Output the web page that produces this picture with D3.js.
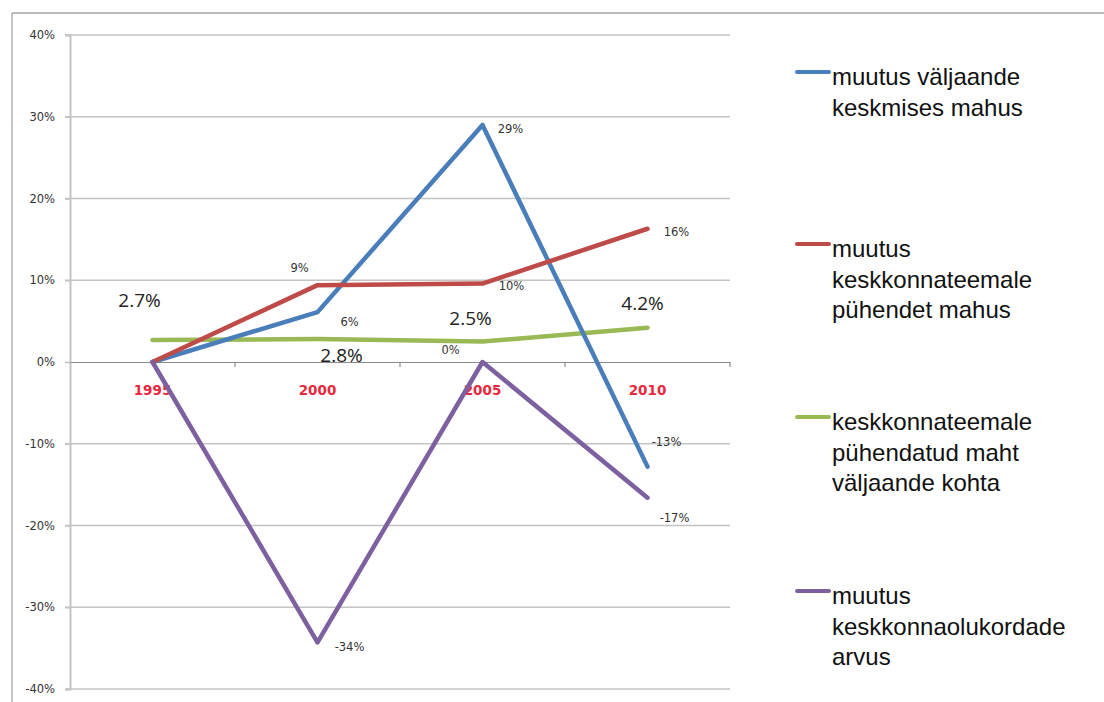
<!DOCTYPE html>
<html>
<head>
<meta charset="utf-8">
<script src="https://cdn.jsdelivr.net/npm/d3@7"></script>
<style>
  body { margin: 0; background: #fff; }
  svg { display: block; }
</style>
</head>
<body>
<svg id="chart" width="1104" height="702"></svg>
<script>
const years = ["1995", "2000", "2005", "2010"];
const yTicks = [-0.4, -0.3, -0.2, -0.1, 0, 0.1, 0.2, 0.3, 0.4];

// series values
const blueValues = [0, 0.061, 0.29, -0.128];
const redValues = [0, 0.094, 0.096, 0.163];
const greenValues = [0.027, 0.028, 0.025, 0.042];
const purpleValues = [0, -0.343, 0, -0.166];

const seriesNames = [
  ["muutus väljaande", "keskmises mahus"],
  ["muutus", "keskkonnateemale", "pühendet mahus"],
  ["keskkonnateemale", "pühendatud maht", "väljaande kohta"],
  ["muutus", "keskkonnaolukordade", "arvus"]
];
const seriesColors = ["#4a7ebb", "#be4b48", "#98b954", "#7d60a0"];

// which points carry a label, and where the label sits relative to its point
const labelPlacement = [
  [null, [32, 10], [28, 4], [19, -25]],
  [null, [-18, -17], [29, 2], [29, 3]],
  [[-13, -40], [24, 16], [-12, -23], [-5, -24]],
  [null, [32, 5], [-32, -12], [27, 20]]
];

const svg = d3.select("#chart");
const plotLeft = 70, plotRight = 730;

const x = d3.scaleBand().domain(years).range([plotLeft, plotRight]);
const y = d3.scaleLinear().domain([-0.4, 0.4]).range([689, 35]);
const minus = s => s.replace("\u2212", "-");

// outer frame (chart area border)
svg.append("line")
  .attr("x1", 12).attr("x2", 1104).attr("y1", 13).attr("y2", 13)
  .attr("stroke", "#bdbdbd").attr("stroke-width", 2);
svg.append("line")
  .attr("x1", 12).attr("x2", 12).attr("y1", 13).attr("y2", 702)
  .attr("stroke", "#8a8a8a").attr("stroke-width", 1);

// gridlines
svg.append("g")
  .selectAll("line")
  .data(yTicks.filter(d => d !== 0))
  .join("line")
    .attr("x1", plotLeft - 5)
    .attr("x2", plotRight)
    .attr("y1", d => y(d))
    .attr("y2", d => y(d))
    .attr("stroke", "#c4c4c4")
    .attr("stroke-width", 1.6);

// y axis
const yAxis = d3.axisLeft(y)
  .tickValues(yTicks)
  .tickFormat(d => minus(d3.format(".0%")(d)))
  .tickSize(5)
  .tickPadding(10);

const yAxisG = svg.append("g")
  .attr("transform", `translate(${plotLeft},0)`)
  .call(yAxis);
yAxisG.select(".domain").attr("stroke", "#c4c4c4").attr("stroke-width", 2);
yAxisG.selectAll(".tick line").attr("stroke", "#c4c4c4").attr("stroke-width", 1.6);
yAxisG.selectAll(".tick text")
  .attr("fill", "#333")
  .style("font-family", "'DejaVu Sans', sans-serif")
  .style("font-size", "11.5px");

// x axis at zero
const xAxis = d3.axisBottom(x).tickSize(0).tickFormat("");
const xAxisG = svg.append("g")
  .attr("transform", `translate(0,${y(0)})`)
  .call(xAxis);
xAxisG.select(".domain").attr("stroke", "#8c8c8c").attr("stroke-width", 1.2);

// category boundary ticks
svg.append("g")
  .selectAll("line")
  .data(years)
  .join("line")
    .attr("x1", d => x(d) + x.step())
    .attr("x2", d => x(d) + x.step())
    .attr("y1", y(0))
    .attr("y2", y(0) + 5)
    .attr("stroke", "#8c8c8c")
    .attr("stroke-width", 1.2);

svg.append("g")
  .selectAll("text")
  .data(years)
  .join("text")
    .attr("x", d => x(d) + x.bandwidth() / 2)
    .attr("y", y(0) + 33)
    .attr("text-anchor", "middle")
    .attr("fill", "#e8283c")
    .style("font-family", "'DejaVu Sans', sans-serif")
    .style("font-weight", "bold")
    .style("font-size", "13.5px")
    .text(d => d);

const allSeries = [blueValues, redValues, greenValues, purpleValues];
const cx = i => x(years[i]) + x.bandwidth() / 2;

const line = d3.line()
  .x((d, i) => cx(i))
  .y(d => y(d));

// green first so the others sit on top
const drawOrder = [2, 0, 1, 3];
drawOrder.forEach(s => {
  svg.append("path")
    .datum(allSeries[s])
    .attr("fill", "none")
    .attr("stroke", seriesColors[s])
    .attr("stroke-width", 4.5)
    .attr("stroke-linejoin", "round")
    .attr("stroke-linecap", "round")
    .attr("d", line);
});

// data labels
allSeries.forEach((vals, s) => {
  const fmt = s === 2 ? d3.format(".1%") : d3.format(".0%");
  const pts = vals.map((v, i) => ({ v, i, off: labelPlacement[s][i] })).filter(p => p.off);
  svg.append("g")
    .selectAll("text")
    .data(pts)
    .join("text")
      .attr("x", p => cx(p.i) + p.off[0])
      .attr("y", p => y(p.v) + p.off[1])
      .attr("text-anchor", "middle")
      .attr("dy", "0.35em")
      .attr("fill", s === 2 ? "#222" : "#333")
      .style("font-family", s === 2 ? "'Open Sans', sans-serif" : "'DejaVu Sans', sans-serif")
      .style("font-size", s === 2 ? "19px" : "11.5px")
      .text(p => minus(fmt(p.v)));
});

// legend
const legendY = [72, 244, 417, 591];
const legend = svg.append("g");
seriesNames.forEach((lines, s) => {
  legend.append("line")
    .attr("x1", 797).attr("x2", 829)
    .attr("y1", legendY[s]).attr("y2", legendY[s])
    .attr("stroke", seriesColors[s])
    .attr("stroke-width", 4)
    .attr("stroke-linecap", "round");
  legend.append("text")
    .attr("x", 832)
    .attr("y", legendY[s] + 13)
    .attr("fill", "#111")
    .style("font-family", "'Liberation Sans', Arial, sans-serif")
    .style("font-size", "24px")
    .selectAll("tspan")
    .data(lines)
    .join("tspan")
      .attr("x", 832)
      .attr("dy", (d, i) => i === 0 ? 0 : 30.5)
      .text(d => d);
});
</script>
</body>
</html>
